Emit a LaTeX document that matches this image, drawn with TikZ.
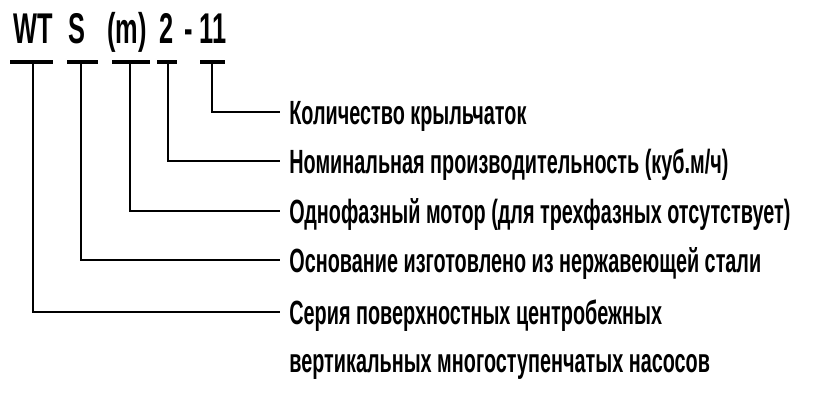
\documentclass[tikz,border=0pt]{standalone}
\usepackage{fontspec}
\setmainfont{Liberation Sans}[FakeStretch=0.59]
\tikzset{
  bar/.style={line width=1.6pt},
  lead/.style={line width=1pt},
  code/.style={anchor=base west,inner sep=0pt,font=\fontsize{21.5}{25}\selectfont\bfseries},
  desc/.style={anchor=west,inner xsep=4.5pt,inner ysep=0pt,text height=12pt,text depth=0pt,
    font=\fontsize{16.8}{20}\selectfont\bfseries}
}
\begin{document}
\begin{tikzpicture}[x=0.5pt,y=-0.5pt]
\useasboundingbox (0,0) rectangle (815,403);
\node[code] (wt) at (13,43) {WT};
\node[code] (s) at (68,43) {S};
\node[code] (m) at (107,43) {(m)};
\node[code] (two) at (159,43) {2};
\node[code] (dash) at (184,43) {-};
\node[code] (eleven) at (199,43) {11};
\draw[bar] (10,62) -- (53,62) (67,62) -- (98,62) (112,62) -- (150,62) (157,62) -- (177,62) (200,62) -- (225,62);
\coordinate (bwt) at (33,62);
\coordinate (bs) at (81,62);
\coordinate (bm) at (130,62);
\coordinate (btwo) at (168,62);
\coordinate (beleven) at (212,62);
\node[desc] (dqty) at (280,112) {Количество крыльчаток};
\node[desc] (dflow) at (280,161) {Номинальная производительность (куб.м/ч)};
\node[desc] (dmotor) at (280,211) {Однофазный мотор (для трехфазных отсутствует)};
\node[desc] (dbase) at (280,260) {Основание изготовлено из нержавеющей стали};
\node[desc] (dseries) at (280,312) {Серия поверхностных центробежных};
\node[desc] (dseriesb) at (280,360) {вертикальных многоступенчатых насосов};
\draw[lead] (beleven) |- (dqty);
\draw[lead] (btwo) |- (dflow);
\draw[lead] (bm) |- (dmotor);
\draw[lead] (bs) |- (dbase);
\draw[lead] (bwt) |- (dseries);
\end{tikzpicture}
\end{document}
